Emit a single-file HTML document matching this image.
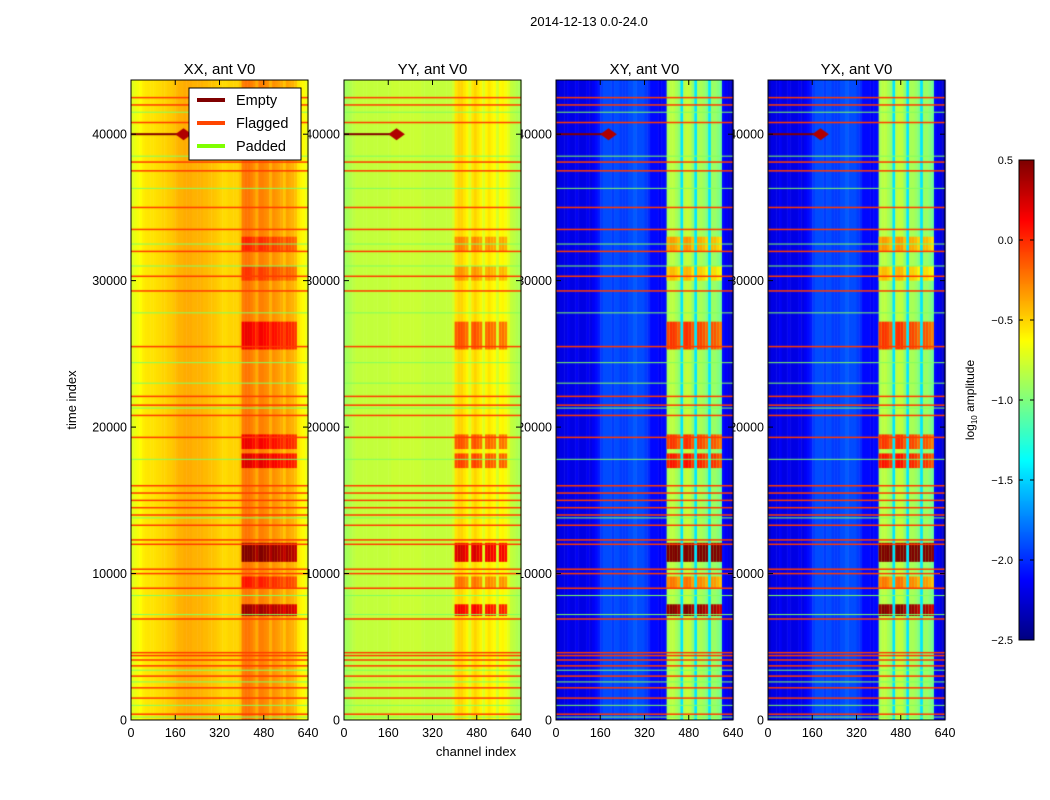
<!DOCTYPE html>
<html><head><meta charset="utf-8"><style>
body{margin:0;background:#fff;width:1050px;height:800px;overflow:hidden;font-family:"Liberation Sans",sans-serif}
#c{position:absolute;left:0;top:0}
#s{position:absolute;left:0;top:0}
</style></head><body>
<canvas id="c" width="1050" height="800"></canvas>
<svg id="s" width="1050" height="800" font-family="Liberation Sans, sans-serif"></svg>
<script>
const panelTitles=["XX, ant V0","YY, ant V0","XY, ant V0","YX, ant V0"];
const xTicks=[0,160,320,480,640];
const yTicks=[0,10000,20000,30000,40000];
const cbTicks=[0.5,0.0,-0.5,-1.0,-1.5,-2.0,-2.5];
// per 10-channel bins (64 bins)
const profXX=[-0.72,-0.68,-0.65,-0.62,-0.58,-0.56,-0.55,-0.55,-0.54,-0.53,-0.52,-0.5,-0.5,-0.48,-0.47,-0.45,-0.42,-0.4,-0.4,-0.38,-0.38,-0.38,-0.4,-0.4,-0.4,-0.4,-0.42,-0.42,-0.44,-0.45,-0.46,-0.48,-0.5,-0.52,-0.52,-0.5,-0.5,-0.5,-0.5,-0.45,-0.25,-0.22,-0.22,-0.25,-0.3,-0.38,-0.25,-0.25,-0.28,-0.3,-0.4,-0.3,-0.32,-0.35,-0.38,-0.45,-0.35,-0.38,-0.4,-0.45,-0.55,-0.6,-0.62,-0.68];
const profYY=[-0.9,-0.88,-0.85,-0.82,-0.8,-0.8,-0.8,-0.8,-0.8,-0.8,-0.8,-0.8,-0.8,-0.8,-0.8,-0.8,-0.8,-0.78,-0.78,-0.78,-0.78,-0.78,-0.78,-0.78,-0.78,-0.78,-0.78,-0.78,-0.8,-0.8,-0.8,-0.8,-0.8,-0.8,-0.8,-0.8,-0.8,-0.8,-0.8,-0.75,-0.55,-0.5,-0.5,-0.55,-0.6,-0.72,-0.55,-0.5,-0.55,-0.6,-0.72,-0.6,-0.55,-0.6,-0.62,-0.75,-0.62,-0.6,-0.65,-0.7,-0.8,-0.82,-0.85,-0.88];
const profXY=[-2.3,-2.2,-2.2,-2.2,-2.15,-2.2,-2.2,-2.15,-2.2,-2.2,-2.2,-2.15,-2.2,-2.15,-2.1,-2.05,-1.95,-1.9,-1.9,-1.9,-1.95,-1.9,-1.9,-1.95,-1.95,-1.95,-1.9,-1.9,-1.85,-1.9,-1.9,-1.9,-1.95,-2.0,-2.1,-2.1,-2.1,-2.15,-2.1,-2.1,-0.88,-0.82,-0.82,-0.88,-0.95,-1.45,-0.82,-0.8,-0.82,-0.95,-1.45,-0.88,-0.88,-0.92,-1.0,-1.45,-0.92,-0.92,-0.98,-1.05,-2.1,-2.15,-2.2,-2.3];
const profYX=[-2.3,-2.2,-2.2,-2.2,-2.15,-2.2,-2.2,-2.15,-2.2,-2.2,-2.2,-2.15,-2.2,-2.15,-2.1,-2.05,-1.95,-1.9,-1.9,-1.9,-1.95,-1.9,-1.9,-1.95,-1.95,-1.95,-1.9,-1.9,-1.85,-1.9,-1.9,-1.9,-1.95,-2.0,-2.1,-2.1,-2.1,-2.15,-2.1,-2.1,-0.88,-0.82,-0.82,-0.88,-0.95,-1.45,-0.82,-0.8,-0.82,-0.95,-1.45,-0.88,-0.88,-0.92,-1.0,-1.45,-0.92,-0.92,-0.98,-1.05,-2.1,-2.15,-2.2,-2.3];
const boostStart=[7100,9000,10800,17200,18500,25300,30000,32000];
const boostEnd=[7900,9800,12100,18200,19500,27200,31000,33000];
const boostAmt=[0.65,0.3,0.75,0.45,0.4,0.4,0.2,0.25];
const panelBoost=[1,1,2,2];
const flaggedRows=[400,1500,2200,3000,3700,4100,4400,4600,6900,9000,10000,10300,12000,12300,13300,14000,14500,15000,15500,16000,19300,20800,21500,22100,25500,29300,30300,32000,33500,35000,37500,38100,40800,42000,42500];
const paddedRows=[200,1000,2600,3400,7200,8500,13800,17800,21300,23000,24400,27800,31000,32500,36300,38500,41500];
const panelX=[131,344,556,768];
const W=177,T=80,B=720,TMAX=43700,CMAX=640,BIN=10;
const NS="http://www.w3.org/2000/svg";
const svg=document.getElementById('s');
const ctx=document.getElementById('c').getContext('2d');
function yS(t){return B-(t/TMAX)*(B-T);}
function xS(p,c){return panelX[p]+c/CMAX*W;}
function jet(v){let t=(v+2.5)/3;t=Math.max(0,Math.min(1,t));
 const f=x=>Math.max(0,Math.min(1,x));
 const r=f(1.5-Math.abs(4*t-3)),g=f(1.5-Math.abs(4*t-2)),b=f(1.5-Math.abs(4*t-1));
 return `rgb(${r*255|0},${g*255|0},${b*255|0})`;}
function el(tag,a,txt){const e=document.createElementNS(NS,tag);for(const k in a)e.setAttribute(k,a[k]);if(txt!==undefined)e.textContent=txt;svg.appendChild(e);return e;}
const defs=el('defs',{});
const profs=[profXX,profYY,profXY,profYX];
const thrs=[-0.48,-0.66,-1.2,-1.2];
for(let p=0;p<4;p++){
 const prof=profs[p];
 const thr=thrs[p];
 for(let i=0;i<prof.length;i++){
  const c0=i*BIN,c1=c0+BIN;
  ctx.fillStyle=jet(prof[i]);ctx.fillRect(xS(p,c0),T,xS(p,c1)-xS(p,c0)+0.5,B-T);
  if(i>=40&&i<60&&prof[i]>thr){
   for(let k=0;k<boostStart.length;k++){
    ctx.fillStyle=jet(prof[i]+boostAmt[k]*panelBoost[p]);
    ctx.fillRect(xS(p,c0),yS(boostEnd[k]),xS(p,c1)-xS(p,c0)+0.5,yS(boostStart[k])-yS(boostEnd[k]));
   }
  }
 }
 ctx.fillStyle='#ff3a00';
 flaggedRows.forEach(r=>ctx.fillRect(panelX[p],yS(r)-0.7,W,1.5));
 ctx.fillStyle='#80ff60';
 paddedRows.forEach(r=>ctx.fillRect(panelX[p],yS(r)-0.5,W,1));
 ctx.fillStyle='#800000';ctx.fillRect(xS(p,0),yS(40000)-1,xS(p,210)-xS(p,0),2);
 ctx.beginPath();ctx.moveTo(xS(p,160),yS(40000));ctx.lineTo(xS(p,190),yS(40000)-6);ctx.lineTo(xS(p,220),yS(40000));ctx.lineTo(xS(p,190),yS(40000)+6);ctx.closePath();
 ctx.fillStyle='#b00000';ctx.fill();
 const g=el('g',{});
 el('rect',{x:panelX[p],y:T,width:W,height:B-T,fill:'none',stroke:'#000','stroke-width':1});
 const tt=el('text',{x:panelX[p]+W/2,y:74,'text-anchor':'middle','font-size':15},panelTitles[p]);
 
 const left=p===0?0:panelX[p-1]+W;
 const cp=document.createElementNS(NS,'clipPath');cp.setAttribute('id','cl'+p);
 const cr=document.createElementNS(NS,'rect');cr.setAttribute('x',left);cr.setAttribute('y',0);cr.setAttribute('width',panelX[p]-left);cr.setAttribute('height',800);
 cp.appendChild(cr);defs.appendChild(cp);
 xTicks.forEach(v=>{const x=xS(p,v);el('line',{x1:x,x2:x,y1:B,y2:B-5,stroke:'#000'});el('line',{x1:x,x2:x,y1:T,y2:T+5,stroke:'#000'});
  const l=el('text',{x:x,y:737,'text-anchor':'middle','font-size':12.5},v);});
 yTicks.forEach(v=>{const y=yS(v);el('line',{x1:panelX[p],x2:panelX[p]+5,y1:y,y2:y,stroke:'#000'});el('line',{x1:panelX[p]+W,x2:panelX[p]+W-5,y1:y,y2:y,stroke:'#000'});
  const l=el('text',{x:panelX[p]-4,y:y+4.5,'text-anchor':'end','font-size':12.5,'clip-path':'url(#cl'+p+')'},v);});
}
let e;
e=el('text',{x:589,y:26,'text-anchor':'middle','font-size':13},'2014-12-13 0.0-24.0');
e=el('text',{x:76,y:400,'text-anchor':'middle','font-size':13,transform:'rotate(-90 76 400)'},'time index');
e=el('text',{x:476,y:756,'text-anchor':'middle','font-size':13},'channel index');
e=el('rect',{x:189,y:88,width:112,height:72,fill:'#fff',stroke:'#000'});
const legNames=["Empty","Flagged","Padded"],legCols=["#800000","#ff4500","#7fff00"];
legNames.forEach((n,i)=>{const y=100+i*23;el('line',{x1:197,x2:225,y1:y,y2:y,stroke:legCols[i],'stroke-width':4});
 const t=el('text',{x:236,y:y+5,'font-size':14.5},n);});
const cbX=1019,cbW=15,cbT=160,cbB=640;
for(let y=cbT;y<cbB;y++){const v=0.5-(y-cbT)/(cbB-cbT)*3;ctx.fillStyle=jet(v);ctx.fillRect(cbX,y,cbW,1);}
e=el('rect',{x:cbX,y:cbT,width:cbW,height:cbB-cbT,fill:'none',stroke:'#000'});
cbTicks.forEach(v=>{const y=cbT+(0.5-v)/3*(cbB-cbT);el('line',{x1:cbX,x2:cbX+4,y1:y,y2:y,stroke:'#000'});el('line',{x1:cbX+cbW,x2:cbX+cbW-4,y1:y,y2:y,stroke:'#000'});
 const t=el('text',{x:1013,y:y+4,'text-anchor':'end','font-size':11},v.toFixed(1).replace('-','−'));});
e=el('text',{x:974,y:400,'text-anchor':'middle','font-size':12,transform:'rotate(-90 974 400)'});
e.innerHTML='log<tspan font-size="8" dy="3">10</tspan><tspan dy="-3"> amplitude</tspan>';

</script></body></html>
